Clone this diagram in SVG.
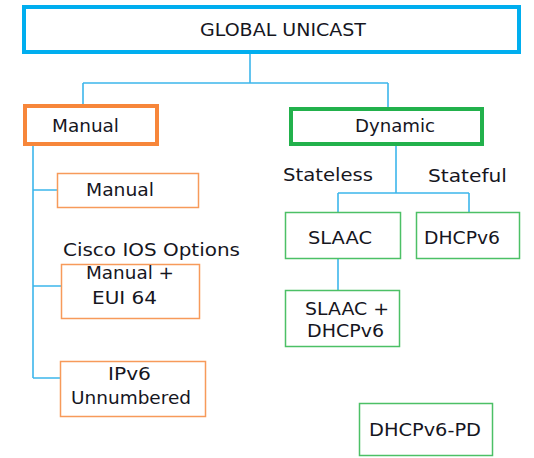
<svg xmlns="http://www.w3.org/2000/svg" width="534" height="458" viewBox="0 0 534 458">
<style>
  .t { font-family: "DejaVu Sans", Verdana, sans-serif; font-size: 18.5px; fill: #16161e; }
  .thick { fill: #fff; stroke-width: 4; }
  .thin { fill: #fff; stroke-width: 1.5; }
  .blue { stroke: #00AEEF; }
  .orange { stroke: #F7863A; }
  .orangeL { stroke: #F79A5A; }
  .green { stroke: #22B14C; }
  .greenL { stroke: #4CC066; }
  .conn { fill: none; stroke: #3DB6EC; stroke-width: 1.6; }
</style>
<rect width="534" height="458" fill="#fff"/>
<g id="connectors">
  <path class="conn" d="M250 54 V83 M83 83 H388 M83 83 V104 M388 83 V107"/>
  <path class="conn" d="M33 146 V378 M33 190 H57 M33 286 H61 M33 378 H60"/>
  <path class="conn" d="M396 146 V193 M338 193 H469 M338 193 V212 M469 193 V212"/>
  <path class="conn" d="M338 259 V290"/>
</g>
<g id="global">
  <rect class="thick blue" x="24" y="7" width="495" height="45"/>
  <text class="t" x="200" y="36" textLength="166" lengthAdjust="spacingAndGlyphs">GLOBAL UNICAST</text>
</g>
<g id="manual">
  <rect class="thick orange" x="25" y="106" width="132" height="38"/>
  <text class="t" x="52" y="132" textLength="67" lengthAdjust="spacingAndGlyphs">Manual</text>
</g>
<g id="dynamic">
  <rect class="thick green" x="291" y="109" width="191" height="35"/>
  <text class="t" x="355" y="132" textLength="80" lengthAdjust="spacingAndGlyphs">Dynamic</text>
</g>
<g id="manual-sub">
  <rect class="thin orangeL" x="57.5" y="173.5" width="141" height="34"/>
  <text class="t" x="86" y="196" textLength="68" lengthAdjust="spacingAndGlyphs">Manual</text>
</g>
<g id="cisco-label">
  <text class="t" x="63" y="256" textLength="177" lengthAdjust="spacingAndGlyphs">Cisco IOS Options</text>
</g>
<g id="manual-eui">
  <rect class="thin orangeL" x="61.5" y="264.5" width="138" height="54"/>
  <text class="t" x="86" y="279" textLength="88" lengthAdjust="spacingAndGlyphs">Manual +</text>
  <text class="t" x="92" y="304" textLength="65" lengthAdjust="spacingAndGlyphs">EUI 64</text>
</g>
<g id="ipv6-unnumbered">
  <rect class="thin orangeL" x="60.5" y="361.5" width="145" height="55"/>
  <text class="t" x="108" y="380" textLength="43" lengthAdjust="spacingAndGlyphs">IPv6</text>
  <text class="t" x="71" y="404" textLength="120" lengthAdjust="spacingAndGlyphs">Unnumbered</text>
</g>
<g id="stateless-label">
  <text class="t" x="283" y="181" textLength="90" lengthAdjust="spacingAndGlyphs">Stateless</text>
</g>
<g id="stateful-label">
  <text class="t" x="428" y="182" textLength="79" lengthAdjust="spacingAndGlyphs">Stateful</text>
</g>
<g id="slaac">
  <rect class="thin greenL" x="285.5" y="212.5" width="115" height="46"/>
  <text class="t" x="308" y="244" textLength="64" lengthAdjust="spacingAndGlyphs">SLAAC</text>
</g>
<g id="dhcpv6">
  <rect class="thin greenL" x="416.5" y="212.5" width="103" height="46"/>
  <text class="t" x="424" y="244" textLength="76" lengthAdjust="spacingAndGlyphs">DHCPv6</text>
</g>
<g id="slaac-dhcpv6">
  <rect class="thin greenL" x="285.5" y="290.5" width="114" height="56"/>
  <text class="t" x="305" y="315" textLength="84" lengthAdjust="spacingAndGlyphs">SLAAC +</text>
  <text class="t" x="307" y="337" textLength="77" lengthAdjust="spacingAndGlyphs">DHCPv6</text>
</g>
<g id="dhcpv6-pd">
  <rect class="thin greenL" x="359.5" y="403.5" width="133" height="52"/>
  <text class="t" x="369" y="436" textLength="112" lengthAdjust="spacingAndGlyphs">DHCPv6-PD</text>
</g>
</svg>
